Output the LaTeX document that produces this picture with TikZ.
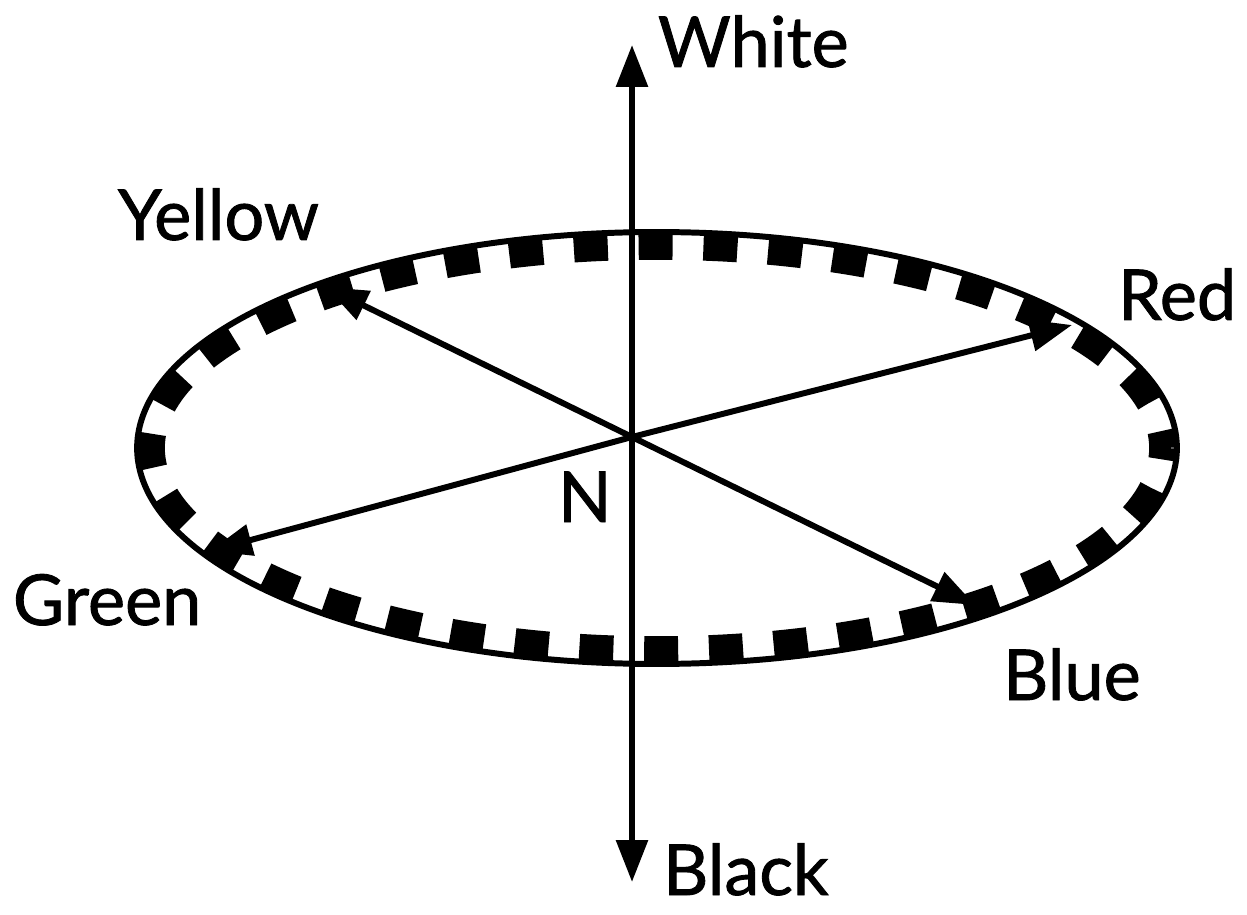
\documentclass[tikz,border=0pt]{standalone}
\usepackage{fontspec}
\setmainfont{Lato}
\newfontfamily\lblfont{Lato}[FakeBold=1.2]
\usetikzlibrary{arrows.meta}
\begin{document}
\begin{tikzpicture}[x=0.02cm,y=-0.02cm,line width=3.4pt,>={Triangle[length=0.84cm,width=0.62cm]},
	lbl/.style={font=\lblfont\fontsize{40}{40}\selectfont,inner sep=0pt,anchor=base west},
	rim/.style={line width=0.55cm,dash pattern=on 0.68cm off 0.6166cm,dash phase=0.34cm}]
			\useasboundingbox (0,0) rectangle (1247,915);
			% the colour circle
			\draw (657,448) ellipse[x radius=10.4cm,y radius=4.32cm];
			\draw[rim] (657,448) ellipse[x radius=10.12cm,y radius=4.04cm];
			% centre and arrow tips
			\coordinate (O) at (632,437);
			\coordinate (white) at (632,45);
			\coordinate (black) at (632,882);
			\coordinate (red) at (1072,325);
			\coordinate (yellow) at (326,287);
			\coordinate (green) at (210,551);
			\coordinate (blue) at (975,605);
			\draw[<->] (white)--(black);
			\draw[->] (O)--(red);
			\draw[->] (O)--(yellow);
			\draw[->] (O)--(green);
			\draw[->] (O)--(blue);
			% labels
			\node[lbl] (lwhite) at (655,67) {White};
			\node[lbl] (lyellow) at (115,240) {Yellow};
			\node[lbl] (lred) at (1115,320) {Red};
			\node[lbl] (lN) at (555,522) {N};
			\node[lbl] (lgreen) at (10,625) {Green};
			\node[lbl] (lblue) at (1000,700) {Blue};
			\node[lbl] (lblack) at (660,895) {Black};
\end{tikzpicture}
\end{document}
